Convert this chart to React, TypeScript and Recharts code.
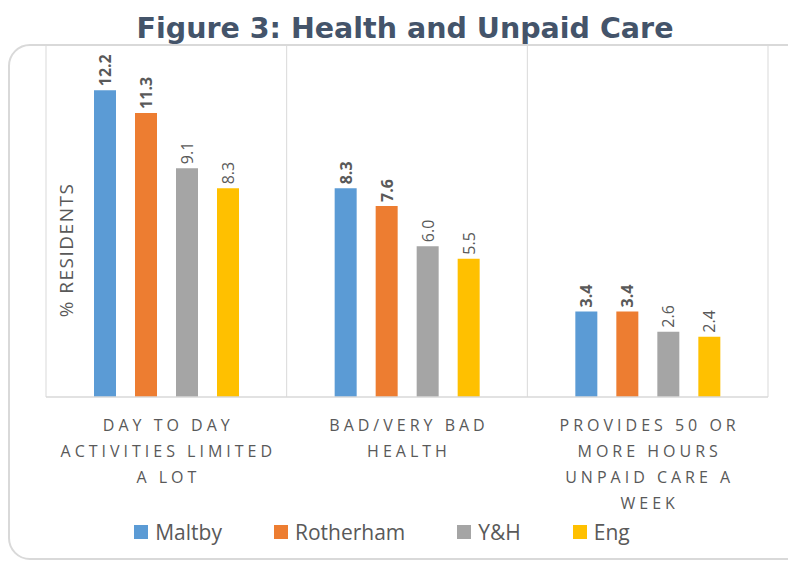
import { BarChart, Bar, XAxis, YAxis, CartesianGrid, Legend, LabelList } from "recharts";

const categories = [
  "DAY TO DAY\nACTIVITIES LIMITED\nA LOT",
  "BAD/VERY BAD\nHEALTH",
  "PROVIDES 50 OR\nMORE HOURS\nUNPAID CARE A\nWEEK",
];
const maltby = [12.2, 8.3, 3.4];
const rotherham = [11.3, 7.6, 3.4];
const yh = [9.1, 6.0, 2.6];
const eng = [8.3, 5.5, 2.4];

const seriesNames = ["Maltby", "Rotherham", "Y&H", "Eng"];
const seriesColors = ["#5B9BD5", "#ED7D31", "#A5A5A5", "#FFC000"];

const data = categories.map((c, i) => ({
  category: c,
  Maltby: maltby[i],
  Rotherham: rotherham[i],
  "Y&H": yh[i],
  Eng: eng[i],
}));

const FONT = "'Open Sans', 'Liberation Sans', sans-serif";
const GREY_TEXT = "#595959";

function CategoryTick(props: any) {
  const { x, y, payload } = props;
  const lines = String(payload.value).split("\n");
  return (
    <text
      x={x}
      y={y}
      textAnchor="middle"
      fill={GREY_TEXT}
      fontSize={16}
      fontFamily={FONT}
      letterSpacing={4}
    >
      {lines.map((l, i) => (
        <tspan key={i} x={x + 2} y={y + 26 + i * 26}>
          {l}
        </tspan>
      ))}
    </text>
  );
}

const makeLabel = (bold: boolean) => (props: any) => {
  const x = Number(props.x);
  const y = Number(props.y);
  const w = Number(props.width);
  const cx = x + w / 2;
  const ty = y - 4;
  return (
    <text
      x={cx}
      y={ty}
      transform={`rotate(-90 ${cx} ${ty})`}
      textAnchor="start"
      dominantBaseline="central"
      fontSize={16}
      fontWeight={bold ? 700 : 400}
      fill={GREY_TEXT}
      fontFamily={FONT}
    >
      {Number(props.value).toFixed(1)}
    </text>
  );
};

function LegendContent() {
  return (
    <div style={{ display: "flex", justifyContent: "center", gap: 52, fontFamily: FONT }}>
      {seriesNames.map((n, i) => (
        <div key={n} style={{ display: "flex", alignItems: "center", gap: 7 }}>
          <span style={{ width: 14, height: 14, background: seriesColors[i], display: "inline-block" }} />
          <span style={{ fontSize: 21, color: GREY_TEXT }}>{n}</span>
        </div>
      ))}
    </div>
  );
}

function ResidentsLabel() {
  const cx = 66;
  const cy = 250;
  return (
    <text
      x={cx}
      y={cy}
      transform={`rotate(-90 ${cx} ${cy})`}
      textAnchor="middle"
      dominantBaseline="central"
      fill={GREY_TEXT}
      fontSize={19}
      fontFamily={FONT}
      letterSpacing={1.5}
    >
      % RESIDENTS
    </text>
  );
}

export default function App() {
  return (
    <div style={{ position: "absolute", left: 0, top: 0, width: 788, height: 565, background: "#fff" }}>
      <div
        style={{
          position: "absolute",
          left: 0,
          top: 12,
          width: 810,
          textAlign: "center",
          fontFamily: "'DejaVu Sans', Verdana, sans-serif",
          fontWeight: 700,
          fontSize: 28.5,
          lineHeight: "34px",
          color: "#44546A",
        }}
      >
        Figure 3: Health and Unpaid Care
      </div>
      <div
        style={{
          position: "absolute",
          left: 8,
          top: 44,
          width: 800,
          height: 512,
          border: "2px solid #D9D9D9",
          borderRadius: 22,
        }}
      />
      <div style={{ position: "absolute", left: 0, top: 0 }}>
        <BarChart
          width={788}
          height={565}
          data={data}
          margin={{ top: 45, right: 20, left: 6, bottom: 20 }}
          barSize={22}
          barGap={19}
        >
          <CartesianGrid
            horizontal={false}
            stroke="#D9D9D9"
            verticalCoordinatesGenerator={({ offset }: any) =>
              [0, 1, 2, 3].map((i) => offset.left + (i * offset.width) / categories.length)
            }
          />
          <XAxis
            dataKey="category"
            axisLine={{ stroke: "#D9D9D9", strokeWidth: 1.5 }}
            tickLine={false}
            interval={0}
            height={120}
            tick={<CategoryTick />}
          />
          <YAxis
            domain={[0, 14]}
            width={40}
            tick={false}
            axisLine={false}
            tickLine={false}
            label={<ResidentsLabel />}
          />
          <Legend
            verticalAlign="bottom"
            content={<LegendContent />}
            wrapperStyle={{ bottom: 19, left: 2, width: 760 }}
          />
          {seriesNames.map((n, i) => (
            <Bar key={n} dataKey={n} fill={seriesColors[i]} isAnimationActive={false}>
              <LabelList dataKey={n} content={makeLabel(i < 2)} />
            </Bar>
          ))}
        </BarChart>
      </div>
    </div>
  );
}
